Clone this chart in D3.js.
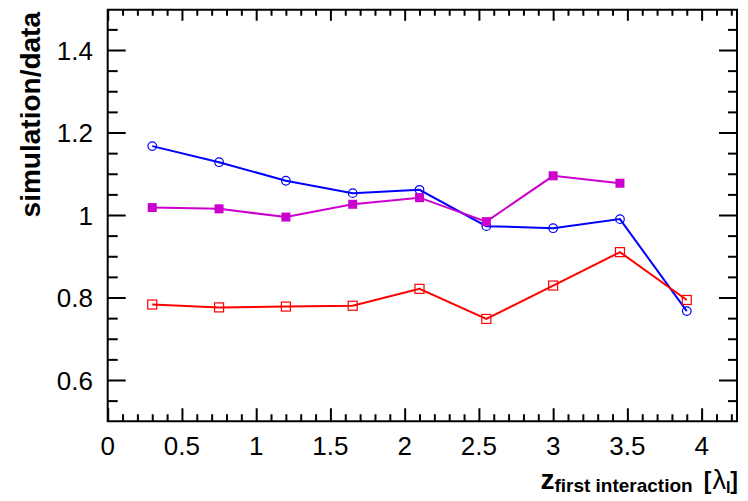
<!DOCTYPE html>
<html>
<head>
<meta charset="utf-8">
<script src="https://cdn.jsdelivr.net/npm/d3@7"></script>
<style>
  html, body { margin: 0; padding: 0; background: #fff; }
  svg { display: block; font-family: "Liberation Sans", Arial, Helvetica, sans-serif; }
</style>
</head>
<body>
<svg id="chart" width="748" height="501"></svg>
<script>
// Depth of the first hadronic interaction (in interaction lengths)
const zFirst = [0.3, 0.75, 1.2, 1.65, 2.1, 2.55, 3.0, 3.45, 3.9];

// Simulation/data ratios for three physics lists
const ratioBlue    = [1.167, 1.128, 1.083, 1.053, 1.061, 0.973, 0.968, 0.990, 0.767];
const ratioMagenta = [1.018, 1.015, 0.995, 1.026, 1.042, 0.984, 1.095, 1.077];
const ratioRed     = [0.783, 0.776, 0.778, 0.780, 0.821, 0.748, 0.829, 0.910, 0.794];

// Axis ranges and labelled ticks
const xDomain = [0, 4.245];
const yDomain = [0.5, 1.5];
const xMajorTicks = [0, 0.5, 1, 1.5, 2, 2.5, 3, 3.5, 4];
const xTickLabels = ["0", "0.5", "1", "1.5", "2", "2.5", "3", "3.5", "4"];
const yMajorTicks = [0.6, 0.8, 1.0, 1.2, 1.4];
const yTickLabels = ["0.6", "0.8", "1", "1.2", "1.4"];

const svg = d3.select("#chart");
const pLeft = 107.7, pRight = 738, pTop = 8.75, pBottom = 421.25;

const x = d3.scaleLinear().domain(xDomain).range([pLeft, pRight]);
const y = d3.scaleLinear().domain(yDomain).range([pBottom, pTop]);

svg.append("rect").attr("width", 748).attr("height", 501).attr("fill", "#fff");

// Minor tick positions
const near = (a, b) => Math.abs(a - b) < 1e-9;
const xMinorOnly = d3.range(0, 43).map(i => i / 10)
  .filter(v => v < xDomain[1] && !xMajorTicks.some(m => near(m, v)));
const yMinorOnly = d3.range(11, 30).map(i => i / 20)
  .filter(v => !yMajorTicks.some(m => near(m, v)));

// Inward-pointing ticks on all four sides
function ticks(axisGen, vals, size, tx, ty) {
  svg.append("g").attr("transform", `translate(${tx},${ty})`)
    .call(axisGen.tickValues(vals).tickSize(size).tickFormat(""))
    .call(g => g.select(".domain").remove());
}
ticks(d3.axisTop(x), xMinorOnly, 7, 0, pBottom);
ticks(d3.axisTop(x), xMajorTicks, 13, 0, pBottom);
ticks(d3.axisBottom(x), xMinorOnly, 6, 0, pTop + 1);
ticks(d3.axisBottom(x), xMajorTicks, 11, 0, pTop + 1);
ticks(d3.axisRight(y), yMinorOnly, 10, pLeft, 0);
ticks(d3.axisRight(y), yMajorTicks, 18, pLeft, 0);
ticks(d3.axisLeft(y), yMinorOnly, 9, pRight - 1, 0);
ticks(d3.axisLeft(y), yMajorTicks, 18, pRight - 1, 0);
svg.selectAll(".tick line").attr("stroke", "#000").attr("stroke-width", 2);

// Frame
svg.append("rect")
  .attr("x", pLeft).attr("y", pTop + 1)
  .attr("width", pRight - 1 - pLeft).attr("height", pBottom - pTop - 1)
  .attr("fill", "none").attr("stroke", "#000").attr("stroke-width", 2);

// Tick labels
svg.append("g").selectAll("text").data(xMajorTicks).join("text")
  .attr("x", d => x(d)).attr("y", 454.5)
  .attr("text-anchor", "middle").attr("font-size", 26).attr("fill", "#000")
  .text((d, i) => xTickLabels[i]);
svg.append("g").selectAll("text").data(yMajorTicks).join("text")
  .attr("x", 93).attr("y", d => y(d) + 9.5)
  .attr("text-anchor", "end").attr("font-size", 26).attr("fill", "#000")
  .text((d, i) => yTickLabels[i]);

// Axis titles
svg.append("text")
  .attr("transform", "translate(40,12) rotate(-90)")
  .attr("text-anchor", "end").attr("font-size", 28).attr("font-weight", "bold")
  .text("simulation/data");

const xt = svg.append("text").attr("x", 738).attr("y", 488.5)
  .attr("text-anchor", "end").attr("font-weight", "bold").attr("fill", "#000");
xt.append("tspan").attr("font-size", 28).text("z");
xt.append("tspan").attr("font-size", 19).attr("dy", 3.5).text("first interaction");
xt.append("tspan").attr("font-size", 23).attr("dy", -3.5).attr("dx", 11).text("[");
xt.append("tspan").attr("font-size", 27).attr("font-weight", "normal").attr("dx", 1).text("\u03bb");
xt.append("tspan").attr("font-size", 16).attr("dy", 4).text("I");
xt.append("tspan").attr("font-size", 23).attr("dy", -4).text("]");

// Series
const line = d3.line().x(d => x(d[0])).y(d => y(d[1]));
function series(vals, color) {
  const pts = vals.map((v, i) => [zFirst[i], v]);
  svg.append("path").datum(pts).attr("d", line)
    .attr("fill", "none").attr("stroke", color).attr("stroke-width", 2);
  return pts;
}

const bluePts = series(ratioBlue, "#0000ff");
const redPts = series(ratioRed, "#ff0000");
const magPts = series(ratioMagenta, "#cc00cc");

svg.append("g").selectAll("circle").data(bluePts).join("circle")
  .attr("cx", d => x(d[0])).attr("cy", d => y(d[1])).attr("r", 4.3)
  .attr("fill", "none").attr("stroke", "#0000ff").attr("stroke-width", 1.2);
svg.append("g").selectAll("rect").data(redPts).join("rect")
  .attr("x", d => x(d[0]) - 4.5).attr("y", d => y(d[1]) - 4.5)
  .attr("width", 9).attr("height", 9)
  .attr("fill", "none").attr("stroke", "#ff0000").attr("stroke-width", 1.2);
svg.append("g").selectAll("rect").data(magPts).join("rect")
  .attr("x", d => x(d[0]) - 4.5).attr("y", d => y(d[1]) - 4.5)
  .attr("width", 9).attr("height", 9)
  .attr("fill", "#cc00cc");
</script>
</body>
</html>
